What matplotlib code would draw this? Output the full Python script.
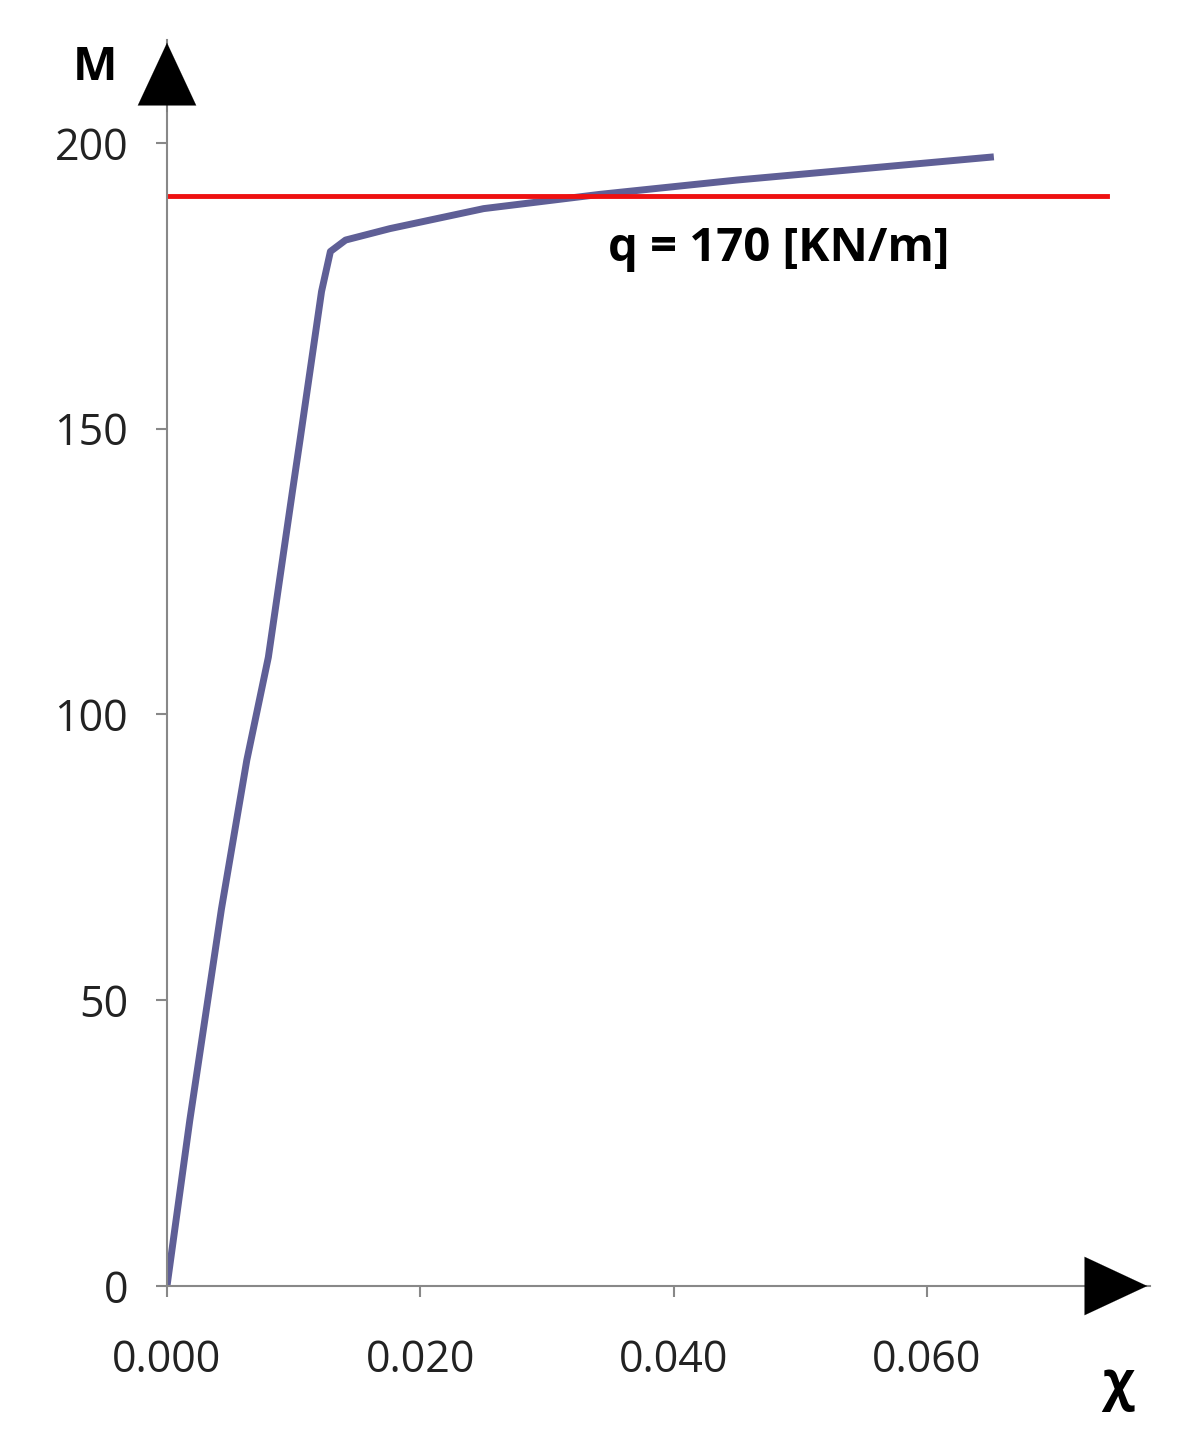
import matplotlib
matplotlib.use("Agg")
import matplotlib.pyplot as plt

chi = [0.0, 0.0018, 0.0043, 0.0063, 0.0080, 0.0099, 0.0105, 0.0122, 0.0129, 0.0141, 0.0176, 0.0250, 0.0342, 0.0450, 0.0550, 0.0650]
M = [0, 29, 66, 92, 110, 139, 148, 174, 181, 183, 185, 188.5, 191, 193.5, 195.5, 197.5]
q_level = 190.7
q_label = "q = 170 [KN/m]"
xticks = [0.0, 0.02, 0.04, 0.06]
yticks = [0, 50, 100, 150, 200]

plt.rcParams['font.family'] = ['Open Sans', 'DejaVu Sans']
fig = plt.figure(figsize=(11.89, 14.4), dpi=100)
ax = fig.add_axes([167/1189, 154/1440, 983/1189, 1246/1440])
ax.set_xlim(0, 0.0776)
ax.set_ylim(0, 218)
ax.plot(chi, M, color='#5f5f96', lw=5, solid_joinstyle='round')
ax.plot([0, 0.0742], [q_level, q_level], color='#ee1111', lw=3.5)
ax.text(0.0348, 181.5, q_label, fontsize=34, fontweight='bold', va='center', ha='left')
for s in ['top', 'right']:
    ax.spines[s].set_visible(False)
for s in ['left', 'bottom']:
    ax.spines[s].set_color('#888888')
    ax.spines[s].set_linewidth(1.5)
ax.set_xticks(xticks)
ax.set_xticklabels([f"{v:.3f}" for v in xticks])
ax.set_yticks(yticks)
ax.tick_params(labelsize=31, colors='#888888', labelcolor='#222222', length=8, width=1.5, pad=20)
ax.tick_params(axis='x', pad=30)
ap = dict(arrowstyle='-|>,head_length=1.5,head_width=0.7', mutation_scale=30, color='black', lw=0.1)
ax.annotate('', xy=(1.0, 0), xytext=(0.94, 0), xycoords='axes fraction', arrowprops=ap, annotation_clip=False)
ax.annotate('', xy=(0, 1.0), xytext=(0, 0.94), xycoords='axes fraction', arrowprops=ap, annotation_clip=False)
fig.text(95/1189, 1-68/1440, 'M', fontsize=34, fontweight='bold', ha='center', va='center')
fig.text(1118/1189, 1-1385/1440, 'χ', fontsize=38, fontweight='bold', ha='center', va='center')
fig.savefig('out.png', dpi=100)
